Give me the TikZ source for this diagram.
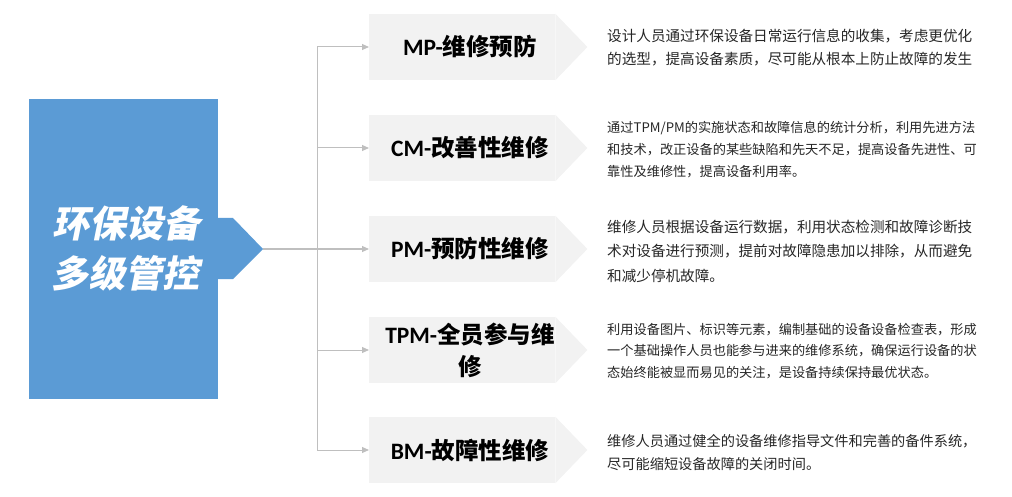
\documentclass[tikz,border=0pt]{standalone}
\usepackage{fontspec}
\usepackage{xcolor}
\usetikzlibrary{arrows.meta}
\usetikzlibrary{positioning}
\usetikzlibrary{calc}
\newfontfamily\cjk{Noto Sans CJK SC}
\newfontfamily\cjkslant{Noto Sans CJK SC}[FakeSlant=0.2]
\newfontfamily\lat{Carlito}
\definecolor{hubblue}{HTML}{5B9BD5}
\definecolor{boxgray}{HTML}{F2F2F2}
\definecolor{linegray}{HTML}{BFBFBF}
\definecolor{textgray}{HTML}{262626}

\begin{document}
\begin{tikzpicture}[x=1pt, y=-1pt,
  hubbox/.style={fill=hubblue, minimum width=189pt, minimum height=300pt, inner sep=0pt, anchor=north west},
  tagbox/.style={fill=boxgray, minimum width=186pt, minimum height=66pt, inner sep=0pt, anchor=west},
  tagtext/.style={inner sep=0pt, align=center, text=black, font={\cjk\bfseries\fontsize{23.5}{32}\selectfont}},
  desctext/.style={inner sep=0pt, align=left, anchor=west, text=textgray},
  branch/.style={draw=linegray, line width=1pt},
  arrowto/.style={branch, -{Triangle[length=7pt,width=6pt]}}]
\useasboundingbox (0,0) rectangle (1012,497);

% hub
\node[hubbox] (hub) at (29,99) {};
\coordinate (tip) at (263,249);
\fill[hubblue] (218,218) -- (233,218) -- (tip) -- (233,279) -- (218,279) -- cycle;
\node[text=white, align=center, inner sep=0pt, font={\cjkslant\bfseries\fontsize{37}{50}\selectfont}] (hubtext) at (126,248) {环保设备\\多级管控};

% trunk
\coordinate (jmp) at (317,47);
\coordinate (jcm) at (317,148);
\coordinate (jpm) at (317,249);
\coordinate (jtpm) at (317,350);
\coordinate (jbm) at (317,450);
\draw[branch] (jmp) -- (jbm);
\draw[branch] (tip) -- (jpm);

% branches
\foreach \by/\bid/\bcode/\bname in {47/mp/MP/维修预防, 148/cm/CM/改善性维修, 249/pm/PM/预防性维修, 350/tpm/TPM/{全员参与维\\修}, 450/bm/BM/故障性维修}{
  \node[tagbox] (\bid) at (369,\by) {};
  \fill[boxgray] (\bid.north east) -- ($(\bid.east)+(32,0)$) -- (\bid.south east) -- cycle;
  \node[tagtext] (\bid-tag) at (470,\by) {{\lat\bfseries \bcode-}\bname};
  \draw[arrowto] (j\bid) -- (\bid.west);
}

% descriptions
\node[desctext, font={\cjk\fontsize{14.6}{23}\selectfont}] (mp-desc) at (607,47.5) {设计人员通过环保设备日常运行信息的收集，考虑更优化\\的选型，提高设备素质，尽可能从根本上防止故障的发生};
\node[desctext, font={\cjk\fontsize{13.2}{22}\selectfont}] (cm-desc) at (607,150) {通过TPM/PM的实施状态和故障信息的统计分析，利用先进方法\\和技术，改正设备的某些缺陷和先天不足，提高设备先进性、可\\靠性及维修性，提高设备利用率。};
\node[desctext, font={\cjk\fontsize{14.6}{24.5}\selectfont}] (pm-desc) at (607,251) {维修人员根据设备运行数据，利用状态检测和故障诊断技\\术对设备进行预测，提前对故障隐患加以排除，从而避免\\和减少停机故障。};
\node[desctext, font={\cjk\fontsize{13.2}{21.5}\selectfont}] (tpm-desc) at (607,351) {利用设备图片、标识等元素，编制基础的设备设备检查表，形成\\一个基础操作人员也能参与进来的维修系统，确保运行设备的状\\态始终能被显而易见的关注，是设备持续保持最优状态。};
\node[desctext, font={\cjk\fontsize{14.2}{23}\selectfont}] (bm-desc) at (607,453) {维修人员通过健全的设备维修指导文件和完善的备件系统，\\尽可能缩短设备故障的关闭时间。};
\end{tikzpicture}
\end{document}
